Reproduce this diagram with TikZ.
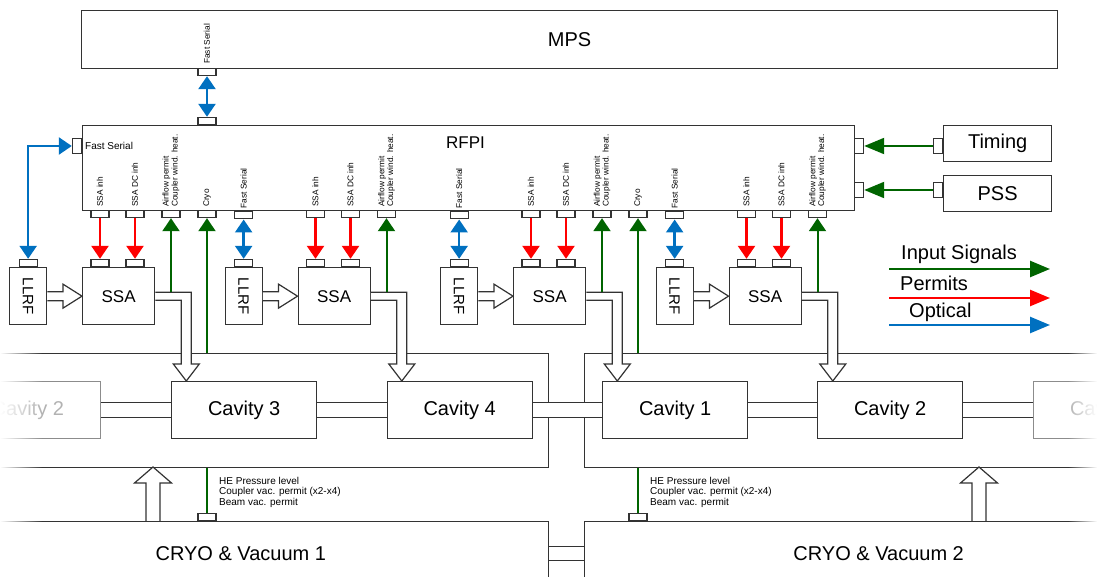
\documentclass[tikz,border=0pt]{standalone}
\usepackage{fontspec}
\setmainfont{Liberation Sans}
\usepackage{graphicx}
\usetikzlibrary{arrows.meta,positioning,calc,fadings}
\definecolor{sigGreen}{RGB}{0,100,0}
\definecolor{permitRed}{RGB}{255,0,0}
\definecolor{opticBlue}{RGB}{0,112,192}
\tikzfading[name=edgeleft, left color=transparent!0, right color=transparent!100]
\tikzfading[name=edgeright, left color=transparent!100, right color=transparent!0]

\begin{document}
\begin{tikzpicture}[x=1pt, y=-1pt,
  >={Triangle[length=13pt,width=17pt]},
  box/.style={rectangle, draw=black!80, line width=1.3pt, fill=white, inner sep=0pt, align=center},
  ghost/.style={rectangle, draw=black!45, line width=1.3pt, text=black!30, inner sep=0pt},
  port/.style={rectangle, draw=black!80, line width=1.2pt, fill=white,
               minimum width=18pt, minimum height=7pt, inner sep=0pt},
  sideport/.style={port, minimum width=9pt, minimum height=15pt},
  bigtext/.style={font=\fontsize{20}{24}\selectfont},
  tag/.style={rotate=90, anchor=west, inner sep=0pt, align=left, font=\fontsize{8.3}{8.8}\selectfont},
  note/.style={inner sep=0pt, align=left, font=\fontsize{10}{10.5}\selectfont},
  hollow/.style={draw=black!80, line width=1.2pt, fill=white, line join=miter},
  wall/.style={draw=black!80, line width=1.3pt},
  sig/.style={sigGreen, line width=2pt},
  permit/.style={permitRed, line width=2.5pt},
  optic/.style={opticBlue, line width=2.5pt},
  longtip/.style={-{Triangle[length=20pt,width=16pt]}},
]
\useasboundingbox (0,0) rectangle (1097,577);
\clip (0,0) rectangle (1097,577);

% MPS, RFPI and the inputs on the right
\node[box, bigtext, minimum width=976pt, minimum height=58pt, anchor=north west] (mps) at (81,10) {MPS};
\node[box, minimum width=772pt, minimum height=85pt, anchor=north west] (rfpi) at (82,125) {};
\node[anchor=west, inner sep=0pt, font=\fontsize{17}{20}\selectfont] (rfpilbl) at (446,143) {RFPI};
\node[box, bigtext, minimum width=108pt, minimum height=36pt, anchor=north west] (timing) at (943,125) {Timing};
\node[box, bigtext, minimum width=108pt, minimum height=36pt, anchor=north west] (pss) at (943,175) {PSS};

\node[port, anchor=north] (mpsfs) at (207,68) {};
\node[tag] at (207,64) {Fast Serial};
\node[port, anchor=south] (rfpitop) at (207,125) {};
\draw[optic, <->] (mpsfs.south) -- (rfpitop.north);

\node[sideport, anchor=east] (rfpileft) at (82,146) {};
\node[note, anchor=west] at (85,146) {Fast Serial};
\node[sideport, anchor=west] (rfpitim) at (854,146) {};
\node[sideport, anchor=west] (rfpipss) at (854,190) {};
\node[sideport, anchor=east] (timp) at (943,146) {};
\node[sideport, anchor=east] (pssp) at (943,190) {};
\draw[sig, longtip] (timp.west) -- (rfpitim.east);
\draw[sig, longtip] (pssp.west) -- (rfpipss.east);

% legend
\node[bigtext, anchor=west, inner sep=0pt] (lgin) at (901,254) {Input Signals};
\node[bigtext, anchor=west, inner sep=0pt] (lgpm) at (900,283) {Permits};
\node[bigtext, anchor=west, inner sep=0pt] (lgop) at (909,312) {Optical};
\coordinate (lgina) at (889,269); \coordinate (lginb) at (1050,269);
\coordinate (lgpma) at (889,298); \coordinate (lgpmb) at (1050,298);
\coordinate (lgopa) at (889,325); \coordinate (lgopb) at (1050,325);
\draw[sig, line width=2.5pt, longtip] (lgina) -- (lginb);
\draw[permit, longtip] (lgpma) -- (lgpmb);
\draw[optic, longtip] (lgopa) -- (lgopb);

% cryo modules
\draw[hollow] let \p1=(0,521), \p2=(0,467) in
  (146pt,\y1) -- (146pt,\y2-16) -- (134.5pt,\y2-16) -- (153pt,\y2) -- (171.5pt,\y2-16) -- (160pt,\y2-16) -- (160pt,\y1);
\draw[hollow] let \p1=(0,521), \p2=(0,467) in
  (972pt,\y1) -- (972pt,\y2-16) -- (960.5pt,\y2-16) -- (979pt,\y2) -- (997.5pt,\y2-16) -- (986pt,\y2-16) -- (986pt,\y1);
\node[box, fill=none, minimum width=620pt, minimum height=114pt, anchor=north east] (cm1) at (549,353) {};
\node[box, fill=none, minimum width=620pt, minimum height=114pt, anchor=north west] (cm2) at (584,353) {};

\node[ghost, bigtext, minimum width=145pt, minimum height=57pt, anchor=north east] (cavx) at (101,381) {Cavity 2};
\node[box, bigtext, minimum width=145pt, minimum height=57pt, anchor=north west] (cav3) at (171,381) {Cavity 3};
\node[box, bigtext, minimum width=145pt, minimum height=57pt, anchor=north west] (cav4) at (386.5,381) {Cavity 4};
\node[box, bigtext, minimum width=145pt, minimum height=57pt, anchor=north west] (cav1) at (602,381) {Cavity 1};
\node[box, bigtext, minimum width=145pt, minimum height=57pt, anchor=north west] (cav2) at (817,381) {Cavity 2};
\node[ghost, bigtext, minimum width=145pt, minimum height=57pt, anchor=north west] (cavy) at (1033,381) {Cavity 3};

\foreach \a/\b in {cavx/cav3, cav3/cav4, cav4/cav1, cav1/cav2, cav2/cavy} {
  \fill[white] ([xshift=1pt,yshift=7.5pt]\a.east) rectangle ([xshift=-1pt,yshift=-7.5pt]\b.west);
  \draw[wall] ([yshift=7.5pt]\a.east) -- ([yshift=7.5pt]\b.west)
              ([yshift=-7.5pt]\a.east) -- ([yshift=-7.5pt]\b.west);
}

\node[box, bigtext, minimum width=615pt, minimum height=64pt, anchor=north east] (cryo1) at (549,521) {CRYO \& Vacuum 1};
\node[box, bigtext, minimum width=588pt, minimum height=64pt, anchor=north west] (cryo2) at (584,521) {CRYO \& Vacuum 2};
\draw[wall] ([yshift=7pt]cryo1.east) -- ([yshift=7pt]cryo2.west)
            ([yshift=-7pt]cryo1.east) -- ([yshift=-7pt]cryo2.west);

% cryo permits, up to the RFPI and down to the cryo & vacuum boxes
\foreach \k/\x/\encl in {A/207/cm1, B/638/cm2} {
  \node[port, anchor=south] (cp\k) at (\x,521) {};
  \node[note, anchor=north west] at (\x+12,477) {HE Pressure level\\Coupler vac. permit (x2-x4)\\Beam vac. permit};
  \draw[sig] (cp\k.north) -- (cp\k.north |- \encl.south);
  \node[port, anchor=north] (rc\k) at (\x,210) {};
  \node[tag] at (\x,207) {Cryo};
  \draw[sig, ->] (rc\k.south |- \encl.north) -- (rc\k.south);
}

% LLRF and SSA per cavity
\foreach \k/\off/\c in {1/0/3, 2/215.5/4, 3/431/1, 4/646.5/2} {
  \node[box, minimum width=37pt, minimum height=57pt, anchor=north west,
        font=\fontsize{15}{18}\selectfont] (llrf\k) at (9+\off,267) {\rotatebox{-90}{LLRF}};
  \node[box, minimum width=72pt, minimum height=57pt, anchor=north west,
        font=\fontsize{17}{20}\selectfont] (ssa\k) at (82+\off,267) {SSA};
  \node[port, anchor=south] (lp\k) at (llrf\k.north) {};
  \node[port, anchor=south] (sa\k) at ([xshift=18pt]ssa\k.north west) {};
  \node[port, anchor=south] (sb\k) at ([xshift=53pt]ssa\k.north west) {};

  \draw[hollow] let \p1=(llrf\k.east), \p2=(ssa\k.west) in
    (\x1,\y1+4.5) -- (\x2-19,\y1+4.5) -- (\x2-19,\y1+12) -- (\x2,\y1)
    -- (\x2-19,\y1-12) -- (\x2-19,\y1-4.5) -- (\x1,\y1-4.5);
  \draw[hollow] let \p1=(ssa\k.east), \p2=(cav\c.north west) in
    (\x1,\y1+4) coordinate (pt\k) -- (\x1+36,\y1+4) -- (\x1+36,\y2+17) -- (\x1+44,\y2+17)
    -- (\x1+31,\y2) -- (\x1+18,\y2+17) -- (\x1+26,\y2+17) -- (\x1+26,\y1-4) -- (\x1,\y1-4);

  \node[port, anchor=north] (pa\k) at (100+\off,210) {};
  \node[port, anchor=north] (pb\k) at (135+\off,210) {};
  \node[port, anchor=north] (pc\k) at (171+\off,210) {};
  \node[tag] at (100+\off,207) {SSA inh};
  \node[tag] at (135+\off,207) {SSA DC inh};
  \node[tag] at (171+\off,207) {Airflow permit\\Coupler wind. heat.};

  \draw[permit, ->] (pa\k.south) -- (sa\k.north);
  \draw[permit, ->] (pb\k.south) -- (sb\k.north);
  \draw[sig, ->] (pt\k -| pc\k.south) -- (pc\k.south);
}

% optical links to the LLRFs
\draw[optic, <->] (rfpileft.west) -| (lp1.north);
\foreach \k in {2,3,4} {
  \node[port, anchor=north] (fs\k) at (lp\k.north |- rfpi.south) {};
  \node[tag] at ([yshift=3pt]fs\k.north) {Fast Serial};
  \draw[optic, <->] (fs\k.south) -- (lp\k.north);
}

% faded edges
\fill[white, path fading=edgeleft] (0,345) rectangle (42,577);
\fill[white, path fading=edgeright] (1068,345) rectangle (1097,577);
\end{tikzpicture}
\end{document}
